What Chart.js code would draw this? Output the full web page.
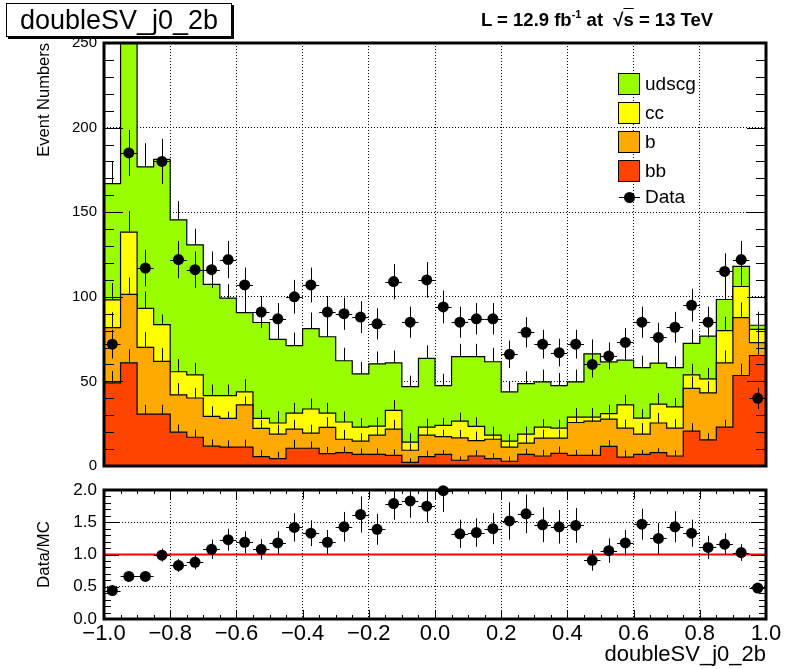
<!DOCTYPE html>
<html>
<head>
<meta charset="utf-8">
<script src="https://cdn.jsdelivr.net/npm/chart.js@4.4.1/dist/chart.umd.min.js"></script>
<style>
  html,body{margin:0;padding:0;background:#fff;}
  body{width:798px;height:669px;position:relative;overflow:hidden;font-family:"Liberation Sans",Arial,Helvetica,sans-serif;color:#000;}
  canvas{position:absolute;left:0;}
  #mainC{top:0;}
  #ratioC{top:480px;}
  #title{position:absolute;left:6px;top:3px;width:224px;height:32px;border:1px solid #000;box-shadow:2px 2px 0 #000;font-size:27px;line-height:32px;text-align:center;background:#fff;}
  #lumi{position:absolute;left:481px;top:9px;font-weight:bold;font-size:18.5px;white-space:nowrap;}
  #lumi sup{font-size:11px;vertical-align:8px;line-height:0;}
  .ov{text-decoration:overline;}
  .legbox{position:absolute;width:20px;height:20px;border:1px solid #000;}
  .legtxt{position:absolute;font-size:19px;line-height:22px;white-space:nowrap;}
  .legline{position:absolute;height:1px;background:#000;}
  .legdot{position:absolute;width:11px;height:11px;border-radius:50%;background:#000;}
</style>
</head>
<body>
<canvas id="mainC" width="798" height="480"></canvas>
<canvas id="ratioC" width="798" height="189"></canvas>
<div id="title">doubleSV_j0_2b</div>
<div id="lumi">L = 12.9 fb<sup>-1</sup> at &nbsp;√<span class="ov">s</span> = 13 TeV</div>
<div id="legend"></div>
<script>
// ---------------- data ----------------
const binEdges = [-1.00,-0.95,-0.90,-0.85,-0.80,-0.75,-0.70,-0.65,-0.60,-0.55,-0.50,-0.45,-0.40,-0.35,-0.30,-0.25,-0.20,-0.15,-0.10,-0.05,0.00,0.05,0.10,0.15,0.20,0.25,0.30,0.35,0.40,0.45,0.50,0.55,0.60,0.65,0.70,0.75,0.80,0.85,0.90,0.95,1.00];

// MC components (stacked: bb at bottom, then b, cc, udscg)
const bb    = [49.1,61.0,30.7,30.7,20.0,17.0,11.7,11.1,11.1,5.5, 4.4,10.5,10.5,7.3,7.9,6.9,6.9,6.3,2.2,5.5, 6.9,3.4,5.9,4.4,2.8,6.9,5.9,7.5,6.3,6.3, 11.6,5.2,6.9,7.9,5.9,20.6,15.4,23.0,53.5,65.3];
const b     = [32.7,40.4,39.4,31.1,22.0,23.2,17.6,17.0,25.0,16.7, 14.4,11.3,8.9,15.5,7.9,7.8,11.3,15.5,7.1,12.7, 10.5,13.2,9.1,11.4,8.3,6.6,10.6,9.0,19.4,20.2, 16.1,17.2,11.9,17.5,16.5,25.3,27.8,38.0,34.2,7.6];
const cc    = [16.4,36.8,23.0,21.8,13.7,13.7,12.3,13.5,7.7,5.9, 6.6,9.5,14.3,8.5,10.2,8.3,5.4,11.1,4.8,4.8, 6.6,9.9,8.4,2.4,3.6,5.3,6.5,5.9,3.2,2.4, 3.2,13.7,9.5,11.2,12.5,8.0,8.3,19.0,18.4,7.9];
const udscg = [68.7,144.8,83.7,97.6,89.8,76.8,65.7,57.6,46.9,56.7, 49.4,39.8,47.5,45.1,36.2,31.5,36.8,28.1,32.8,40.6, 23.5,38.2,41.3,43.4,29.1,29.9,26.7,25.1,20.8,37.4, 30.6,26.5,29.9,24.2,23.3,18.6,25.3,18.4,11.9,2.4];

// MC stat errors of each stacked sum (upper halves visible)
const errBB    = [7,8,5.5,5.5,4.5,4.5,4,4,4.5,4, 4,5,4,4,3.5,3.5,3.5,3.5,2.4,3.5, 2.6,2.2,3.5,3.2,2.8,3.3,3.7,4,3.2,3.3, 3.7,4,2.6,2.6,3.3,4.7,4,4.3,7,7.5];
const errB     = [9,10,9,8,7,6,6,4,5,5, 5.5,5.5,5,6,5.5,4.7,5,5.5,4,5, 4,4.7,5.3,4.5,4.3,5,5,5,5,5, 5.5,5,6.5,6,5.3,7,7,7.3,8.9,8];
const errCC    = [10,12.5,10,6,7.5,7,6.5,6.5,7.5,5, 7,6,6.2,6,6.3,5.3,5.1,6,5.3,5, 4.4,5,5.3,5.1,4,4.5,4.7,5,5.3,5.3, 5.3,6,5.3,6.5,5.3,6.5,6.5,8.3,8.3,8.5];
const errUdscg = [13,14,14,12,11,9.5,9,8.3,8,8, 8,7.7,9.5,8,7.7,7,7.3,7.3,6.5,7.7, 7,7.5,7.5,8.3,6.3,7.3,7.3,7.5,7.3,8.5, 8,8,7,7.5,6.7,8.3,8,8,9,8];

// Data
const dataVals = [72,185,117,180,122,116,116,122,107,91, 87,100,107,91,90,88,84,109,85,110, 94,85,87,87,66,79,72,67,72,60, 65,73,85,76,82,95,85,115,122,40];
const dataErrs = [8.5,13.6,10.8,13.4,11.0,10.8,10.8,11.0,10.3,9.5, 9.3,10.0,10.3,9.5,9.5,9.4,9.2,10.4,9.2,10.5, 9.7,9.2,9.3,9.3,8.1,8.9,8.5,8.2,8.5,7.7, 8.1,8.5,9.2,8.7,9.1,9.7,9.2,10.7,11.0,6.3];

// Data/MC
const ratioVals = [0.44,0.66,0.66,0.99,0.83,0.88,1.08,1.23,1.19,1.08, 1.18,1.42,1.33,1.19,1.43,1.62,1.39,1.79,1.83,1.75, 1.99,1.32,1.34,1.40,1.52,1.63,1.46,1.43,1.45,0.91, 1.06,1.18,1.47,1.25,1.43,1.33,1.11,1.16,1.03,0.48];
const ratioErrs = [0.05,0.06,0.07,0.10,0.10,0.11,0.15,0.17,0.17,0.16, 0.18,0.22,0.20,0.19,0.23,0.28,0.24,0.25,0.26,0.25, 0.33,0.22,0.22,0.24,0.29,0.30,0.27,0.26,0.27,0.16, 0.19,0.20,0.24,0.24,0.24,0.21,0.18,0.17,0.13,0.07];

const seriesNames = ['bb','b','cc','udscg'];
const seriesColors = ['#ff4400','#ffaa00','#ffff00','#99ff00'];
const mainYTicks = [0,50,100,150,200,250];
const ratioYTicks = [0,0.5,1,1.5,2];
const xTicks = [-1,-0.8,-0.6,-0.4,-0.2,0,0.2,0.4,0.6,0.8,1];

// ---------------- build stacked tables ----------------
const comps = [bb, b, cc, udscg];
const compErrs = [errBB, errB, errCC, errUdscg];
const cumTops = [];
comps.forEach((arr, k) => {
  cumTops.push(arr.map((v, i) => (k ? cumTops[k-1][i] : 0) + v));
});
const centers = binEdges.slice(0, -1).map((e, i) => (e + binEdges[i+1]) / 2);
const stepPts = tops => binEdges.map((x, i) => ({x, y: tops[Math.min(i, tops.length-1)]}));

Chart.defaults.font.family = "'Liberation Sans', Arial, Helvetica, sans-serif";
Chart.defaults.color = '#000';

// ---------------- plugins ----------------
function tickMarks(chart, o) {
  const {ctx, chartArea: a, scales: {x, y}} = chart;
  ctx.save();
  ctx.strokeStyle = '#000'; ctx.lineWidth = 1;
  ctx.beginPath();
  if (o.yMinor) {
    const n = Math.round((y.max - y.min) / o.yMinor);
    for (let i = 0; i <= n; i++) {
      const v = y.min + i * o.yMinor;
      const maj = Math.abs(v / o.yMajor - Math.round(v / o.yMajor)) < 1e-6;
      const len = maj ? o.yMajLen : o.yMinLen;
      const p = Math.round(y.getPixelForValue(v)) + 0.5;
      ctx.moveTo(a.left, p); ctx.lineTo(a.left + len, p);
      ctx.moveTo(a.right, p); ctx.lineTo(a.right - len, p);
    }
  }
  if (o.xMinor) {
    const n = Math.round((x.max - x.min) / o.xMinor);
    for (let i = 0; i <= n; i++) {
      const v = x.min + i * o.xMinor;
      const maj = Math.abs(v / o.xMajor - Math.round(v / o.xMajor)) < 1e-6;
      const len = maj ? o.xMajLen : o.xMinLen;
      const p = Math.round(x.getPixelForValue(v)) + 0.5;
      ctx.moveTo(p, a.bottom); ctx.lineTo(p, a.bottom - len);
      ctx.moveTo(p, a.top); ctx.lineTo(p, a.top + len);
    }
  }
  ctx.stroke();
  ctx.lineWidth = 3;
  ctx.strokeRect(a.left, a.top, a.right - a.left, a.bottom - a.top);
  ctx.restore();
}
const framePlugin = { id: 'frame', afterDraw(chart, args, opts) { tickMarks(chart, opts); } };

const errPlugin = {
  id: 'errs',
  afterDatasetsDraw(chart, args, opts) {
    const {ctx, chartArea: a, scales: {x, y}} = chart;
    ctx.save();
    ctx.beginPath(); ctx.rect(a.left, a.top, a.right - a.left, a.bottom - a.top); ctx.clip();
    ctx.strokeStyle = '#000'; ctx.lineWidth = 1;
    ctx.beginPath();
    (opts.up || []).forEach(({tops, errs}) => {
      tops.forEach((t, i) => {
        const xc = Math.round(x.getPixelForValue(centers[i])) + 0.5;
        ctx.moveTo(xc, y.getPixelForValue(t));
        ctx.lineTo(xc, y.getPixelForValue(t + errs[i]));
      });
    });
    if (opts.pts) {
      const {vals, errs} = opts.pts;
      vals.forEach((v, i) => {
        const xc = Math.round(x.getPixelForValue(centers[i])) + 0.5;
        const yv = Math.round(y.getPixelForValue(v)) + 0.5;
        ctx.moveTo(x.getPixelForValue(binEdges[i]), yv);
        ctx.lineTo(x.getPixelForValue(binEdges[i+1]), yv);
        ctx.moveTo(xc, y.getPixelForValue(v - errs[i]));
        ctx.lineTo(xc, y.getPixelForValue(v + errs[i]));
      });
    }
    ctx.stroke();
    ctx.restore();
  }
};

const fmt1 = v => (v < 0 ? '\u2212' : '') + Math.abs(v).toFixed(1);
const fixY = w => s => { s.width = w; s.paddingTop = 0; s.paddingBottom = 0; };
const fixX = h => s => { s.height = h; s.paddingLeft = 0; s.paddingRight = 0; };

// ---------------- main chart ----------------
const mcSets = comps.map((arr, k) => ({
  type: 'line',
  label: seriesNames[k],
  data: stepPts(cumTops[k]),
  stepped: 'before',
  borderColor: '#000',
  borderWidth: 1.2,
  backgroundColor: seriesColors[k],
  fill: k === 0 ? 'origin' : '-1',
  pointRadius: 0,
  order: 2
}));
const dataSet = {
  type: 'scatter',
  label: 'Data',
  data: dataVals.map((v, i) => ({x: centers[i], y: v})),
  pointRadius: 5.5, pointHoverRadius: 5.5,
  pointBackgroundColor: '#000', pointBorderWidth: 0,
  showLine: false, clip: false, order: 1
};

new Chart(document.getElementById('mainC'), {
  type: 'line',
  data: { datasets: [...mcSets, dataSet] },
  options: {
    responsive: false, animation: false, devicePixelRatio: 1,
    layout: { padding: { top: 43, right: 32, left: 0, bottom: 0 } },
    plugins: {
      legend: { display: false }, tooltip: { enabled: false },
      frame: { yMajor: 50, yMinor: 10, yMajLen: 19, yMinLen: 10 },
      errs: {
        up: comps.map((_, k) => ({ tops: cumTops[k], errs: compErrs[k] })),
        pts: { vals: dataVals, errs: dataErrs }
      }
    },
    scales: {
      x: {
        type: 'linear', min: -1, max: 1,
        afterBuildTicks: s => { s.ticks = xTicks.map(v => ({value: v})); },
        ticks: { display: false },
        grid: { color: '#000', lineWidth: 1, drawTicks: false },
        border: { display: false, dash: [1, 2] },
        afterFit: fixX(14)
      },
      y: {
        min: 0, max: 250,
        afterBuildTicks: s => { s.ticks = mainYTicks.map(v => ({value: v})); },
        ticks: { font: { size: 15 }, padding: 7, color: '#000' },
        grid: { color: '#000', lineWidth: 1, drawTicks: false },
        border: { display: false, dash: [1, 2] },
        title: { display: true, text: 'Event Numbers', align: 'end', font: { size: 16.5 }, padding: { top: 35, bottom: 0 } },
        afterFit: fixY(104)
      }
    }
  },
  plugins: [framePlugin, errPlugin]
});

// ---------------- ratio chart ----------------
new Chart(document.getElementById('ratioC'), {
  type: 'line',
  data: {
    datasets: [
      { type: 'line', label: 'unity', data: [{x: -1, y: 1}, {x: 1, y: 1}], borderColor: '#ff0000', borderWidth: 2, pointRadius: 0, fill: false, order: 2 },
      { type: 'scatter', label: 'Data/MC', data: ratioVals.map((v, i) => ({x: centers[i], y: v})),
        pointRadius: 5.5, pointHoverRadius: 5.5, pointBackgroundColor: '#000', pointBorderWidth: 0,
        showLine: false, clip: false, order: 1 }
    ]
  },
  options: {
    responsive: false, animation: false, devicePixelRatio: 1,
    layout: { padding: { top: 10, right: 32, left: 0, bottom: 0 } },
    plugins: {
      legend: { display: false }, tooltip: { enabled: false },
      frame: { yMajor: 0.5, yMinor: 0.1, yMajLen: 15, yMinLen: 7, xMajor: 0.2, xMinor: 0.05, xMajLen: 9, xMinLen: 4 },
      errs: { pts: { vals: ratioVals, errs: ratioErrs } }
    },
    scales: {
      x: {
        type: 'linear', min: -1, max: 1,
        afterBuildTicks: s => { s.ticks = xTicks.map(v => ({value: v})); },
        ticks: { font: { size: 22 }, padding: 2, color: '#000', maxRotation: 0, autoSkip: false, callback: v => fmt1(v) },
        grid: { color: '#000', lineWidth: 1, drawTicks: false },
        border: { display: false, dash: [1, 2] },
        title: { display: true, text: 'doubleSV_j0_2b', align: 'end', font: { size: 22 }, padding: { top: 0, bottom: 1 } },
        afterFit: fixX(50)
      },
      y: {
        min: 0, max: 2,
        afterBuildTicks: s => { s.ticks = ratioYTicks.map(v => ({value: v})); },
        ticks: { font: { size: 17 }, padding: 7, color: '#000', callback: v => fmt1(v) },
        grid: { color: '#000', lineWidth: 1, drawTicks: false },
        border: { display: false, dash: [1, 2] },
        title: { display: true, text: 'Data/MC', align: 'center', font: { size: 17 }, padding: { top: 34, bottom: 0 } },
        afterFit: fixY(104)
      }
    }
  },
  plugins: [framePlugin, errPlugin]
});

// ---------------- legend (HTML, from the dataset definitions) ----------------
const leg = document.getElementById('legend');
const legOrder = [3, 2, 1, 0];
legOrder.forEach((k, r) => {
  const top = 73 + r * 29;
  const box = document.createElement('div');
  box.className = 'legbox';
  box.style.left = '618px'; box.style.top = top + 'px';
  box.style.background = seriesColors[k];
  leg.appendChild(box);
  const t = document.createElement('div');
  t.className = 'legtxt';
  t.style.left = '645px'; t.style.top = top + 'px';
  t.textContent = seriesNames[k];
  leg.appendChild(t);
});
{
  const cy = 197;
  const ln = document.createElement('div'); ln.className = 'legline';
  ln.style.left = '619px'; ln.style.width = '21px'; ln.style.top = cy + 'px'; leg.appendChild(ln);
  const d = document.createElement('div'); d.className = 'legdot';
  d.style.left = '624px'; d.style.top = (cy - 5) + 'px'; leg.appendChild(d);
  const t = document.createElement('div'); t.className = 'legtxt';
  t.style.left = '645px'; t.style.top = (cy - 11) + 'px'; t.textContent = 'Data'; leg.appendChild(t);
}
</script>
</body>
</html>
